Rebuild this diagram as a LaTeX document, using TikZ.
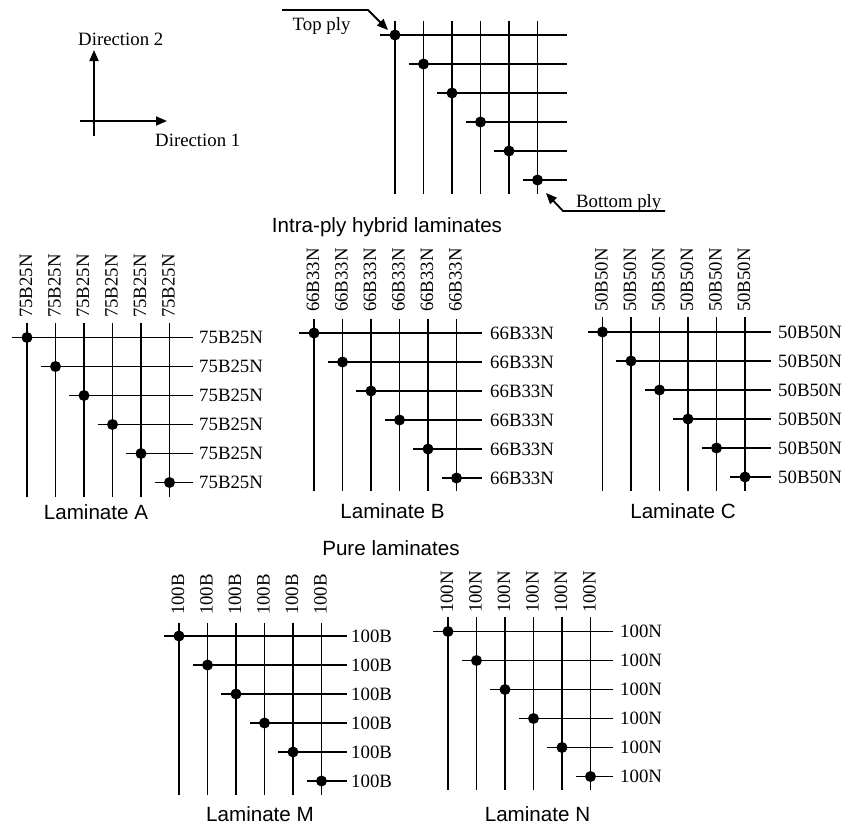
\documentclass[tikz,border=0pt]{standalone}
\usepackage{fontspec}
\setmainfont{Liberation Serif}
\newfontfamily\labsans{Liberation Sans}
\usetikzlibrary{arrows.meta}
\tikzset{
  ply/.style={line width=1.8pt},
  plydot/.style={circle,fill=black,inner sep=0pt,minimum size=11pt},
  serlab/.style={inner sep=0pt,font=\fontsize{18.8}{22}\selectfont},
  collab/.style={serlab,rotate=90,anchor=west},
  rowlab/.style={serlab,anchor=west},
  title/.style={inner sep=0pt,font=\labsans\fontsize{20.6}{24}\selectfont},
  arr/.style={line width=1.8pt,-{Triangle[length=11pt,width=9pt]}},
}
% #1 prefix, #2 x0, #3 y0, #4 x end of rows, #5 y top of columns, #6 y bottom of columns
\newcommand{\plygrid}[6]{%
  \foreach \i in {0,...,5} {
    \coordinate (#1v\i t) at ({#2+28.5*\i},#5);
    \coordinate (#1v\i b) at ({#2+28.5*\i},#6);
    \draw[ply] (#1v\i t) -- (#1v\i b);
    \coordinate (#1h\i l) at ({#2+28.5*\i-15},{#3+29*\i});
    \coordinate (#1h\i r) at (#4,{#3+29*\i});
    \draw[ply] (#1h\i l) -- (#1h\i r);
    \node[plydot] (#1d\i) at ({#2+28.5*\i},{#3+29*\i}) {};
  }
}
% #1 prefix, #2 x0, #3 y bottom of column labels, #4 text
\newcommand{\collabels}[4]{%
  \foreach \i in {0,...,5} {
    \node[collab] (#1c\i) at ({#2+28.5*\i-1},#3) {#4};
  }
}
% #1 prefix, #2 x, #3 y0, #4 text
\newcommand{\rowlabels}[4]{%
  \foreach \i in {0,...,5} {
    \node[rowlab] (#1r\i) at (#2,{#3+29*\i}) {#4};
  }
}
\begin{document}
\begin{tikzpicture}[x=1pt,y=-1pt]
\useasboundingbox (0,0) rectangle (843,825);

% direction axes
\coordinate (o2b) at (94,136);
\coordinate (o2t) at (94,50);
\coordinate (o1l) at (80,121);
\coordinate (o1r) at (167,121);
\draw[arr] (o2b) -- (o2t);
\draw[arr] (o1l) -- (o1r);
\node[serlab,anchor=west] (d2) at (78,39) {Direction 2};
\node[serlab,anchor=west] (d1) at (155,140) {Direction 1};

% top schematic
\plygrid{T}{395}{35}{567}{21}{194}
\coordinate (tp0) at (282,10);
\coordinate (tp1) at (368,10);
\coordinate (tp2) at (388,30);
\draw[arr] (tp0) -- (tp1) -- (tp2);
\node[serlab,anchor=base west] (toply) at (292.5,30) {Top ply};
\coordinate (bp0) at (665,211);
\coordinate (bp1) at (563,211);
\coordinate (bp2) at (546,193);
\draw[arr] (bp0) -- (bp1) -- (bp2);
\node[serlab,anchor=base west] (botply) at (576,207) {Bottom ply};

\node[title,anchor=base] (intra) at (387,232) {Intra-ply hybrid laminates};

% Laminate A
\plygrid{A}{27}{337.5}{193}{323}{497}
\collabels{A}{27}{318}{75B25N}
\rowlabels{A}{199}{337.5}{75B25N}
\node[title] (labA) at (96,512) {Laminate A};

% Laminate B
\plygrid{B}{314}{333}{482}{319}{491}
\collabels{B}{314}{312}{66B33N}
\rowlabels{B}{490}{333}{66B33N}
\node[title] (labB) at (392.5,511) {Laminate B};

% Laminate C
\plygrid{C}{602.5}{332}{771}{317}{491}
\collabels{C}{602.5}{312}{50B50N}
\rowlabels{C}{778}{332}{50B50N}
\node[title] (labC) at (683,511) {Laminate C};

\node[title] (pure) at (391,548) {Pure laminates};

% Laminate M
\plygrid{M}{179}{636}{347}{623}{795}
\collabels{M}{179}{615}{100B}
\rowlabels{M}{351}{636}{100B}
\node[title] (labM) at (260,814) {Laminate M};

% Laminate N
\plygrid{N}{448}{631.5}{613}{617}{790}
\collabels{N}{448}{613}{100N}
\rowlabels{N}{620}{631.5}{100N}
\node[title] (labN) at (537.5,814) {Laminate N};
\end{tikzpicture}
\end{document}
